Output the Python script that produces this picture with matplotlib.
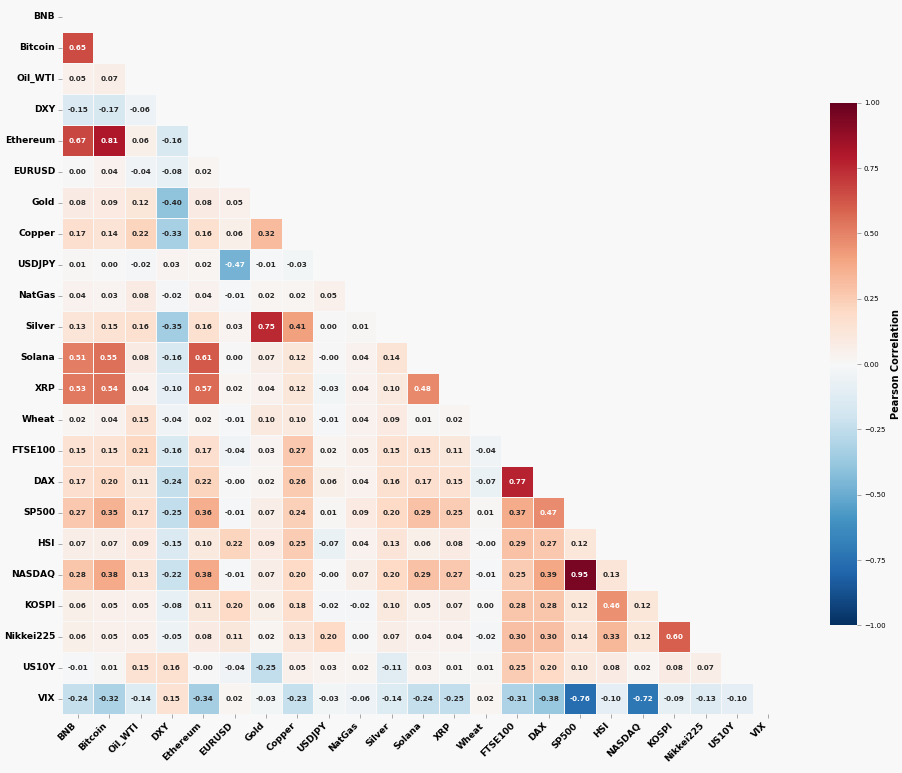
import numpy as np
import matplotlib
matplotlib.use("Agg")
import matplotlib.pyplot as plt
import seaborn as sns

labels = ["BNB", "Bitcoin", "Oil_WTI", "DXY", "Ethereum", "EURUSD", "Gold", "Copper",
          "USDJPY", "NatGas", "Silver", "Solana", "XRP", "Wheat", "FTSE100", "DAX",
          "SP500", "HSI", "NASDAQ", "KOSPI", "Nikkei225", "US10Y", "VIX"]

# lower triangle, row by row (values left of the diagonal)
lower_rows = [
    [],
    [0.65],
    [0.05, 0.07],
    [-0.15, -0.17, -0.06],
    [0.67, 0.81, 0.06, -0.16],
    [0.00, 0.04, -0.04, -0.08, 0.02],
    [0.08, 0.09, 0.12, -0.40, 0.08, 0.05],
    [0.17, 0.14, 0.22, -0.33, 0.16, 0.06, 0.32],
    [0.01, 0.00, -0.02, 0.03, 0.02, -0.47, -0.01, -0.03],
    [0.04, 0.03, 0.08, -0.02, 0.04, -0.01, 0.02, 0.02, 0.05],
    [0.13, 0.15, 0.16, -0.35, 0.16, 0.03, 0.75, 0.41, 0.00, 0.01],
    [0.51, 0.55, 0.08, -0.16, 0.61, 0.00, 0.07, 0.12, -0.00, 0.04, 0.14],
    [0.53, 0.54, 0.04, -0.10, 0.57, 0.02, 0.04, 0.12, -0.03, 0.04, 0.10, 0.48],
    [0.02, 0.04, 0.15, -0.04, 0.02, -0.01, 0.10, 0.10, -0.01, 0.04, 0.09, 0.01, 0.02],
    [0.15, 0.15, 0.21, -0.16, 0.17, -0.04, 0.03, 0.27, 0.02, 0.05, 0.15, 0.15, 0.11, -0.04],
    [0.17, 0.20, 0.11, -0.24, 0.22, -0.00, 0.02, 0.26, 0.06, 0.04, 0.16, 0.17, 0.15, -0.07, 0.77],
    [0.27, 0.35, 0.17, -0.25, 0.36, -0.01, 0.07, 0.24, 0.01, 0.09, 0.20, 0.29, 0.25, 0.01, 0.37, 0.47],
    [0.07, 0.07, 0.09, -0.15, 0.10, 0.22, 0.09, 0.25, -0.07, 0.04, 0.13, 0.06, 0.08, -0.00, 0.29, 0.27, 0.12],
    [0.28, 0.38, 0.13, -0.22, 0.38, -0.01, 0.07, 0.20, -0.00, 0.07, 0.20, 0.29, 0.27, -0.01, 0.25, 0.39, 0.95, 0.13],
    [0.06, 0.05, 0.05, -0.08, 0.11, 0.20, 0.06, 0.18, -0.02, -0.02, 0.10, 0.05, 0.07, 0.00, 0.28, 0.28, 0.12, 0.46, 0.12],
    [0.06, 0.05, 0.05, -0.05, 0.08, 0.11, 0.02, 0.13, 0.20, 0.00, 0.07, 0.04, 0.04, -0.02, 0.30, 0.30, 0.14, 0.33, 0.12, 0.60],
    [-0.01, 0.01, 0.15, 0.16, -0.00, -0.04, -0.25, 0.05, 0.03, 0.02, -0.11, 0.03, 0.01, 0.01, 0.25, 0.20, 0.10, 0.08, 0.02, 0.08, 0.07],
    [-0.24, -0.32, -0.14, 0.15, -0.34, 0.02, -0.03, -0.23, -0.03, -0.06, -0.14, -0.24, -0.25, 0.02, -0.31, -0.38, -0.76, -0.10, -0.72, -0.09, -0.13, -0.10],
]

n = len(labels)
corr = np.eye(n)
for i, row in enumerate(lower_rows):
    for j, v in enumerate(row):
        corr[i, j] = v
        corr[j, i] = v
mask = np.triu(np.ones_like(corr, dtype=bool))

bg = "#f8f8f8"
fig = plt.figure(figsize=(9.03, 7.73), dpi=100, facecolor=bg)
ax = fig.add_axes([0.0687, 0.0763, 0.7995, 0.9224])
cax = fig.add_axes([0.919, 0.191, 0.030, 0.676])
ax.set_facecolor(bg)

sns.heatmap(corr, mask=mask, cmap="RdBu_r", vmin=-1, vmax=1, center=0,
            annot=True, fmt=".2f", annot_kws={"size": 5.2, "weight": "bold"},
            linewidths=0.5, linecolor=bg,
            xticklabels=labels, yticklabels=labels,
            ax=ax, cbar_ax=cax)

ax.set_xticklabels(labels, rotation=45, ha="right", fontsize=6.6, fontweight="bold")
ax.set_yticklabels(labels, rotation=0, fontsize=6.6, fontweight="bold")
ax.tick_params(length=3, width=0.6, color="#999999", pad=2)

cbar_ticks = [-1, -0.75, -0.5, -0.25, 0, 0.25, 0.5, 0.75, 1]
cax.tick_params(labelsize=5, length=3, width=0.6, color="#999999", pad=2)
cax.set_yticks(cbar_ticks)
cax.set_yticklabels([f"{t:.2f}".replace("-", "\u2212") for t in cbar_ticks])
cax.set_ylabel("Pearson Correlation", fontsize=7, fontweight="bold", labelpad=4)

fig.savefig("out.png", dpi=100, facecolor=bg)
